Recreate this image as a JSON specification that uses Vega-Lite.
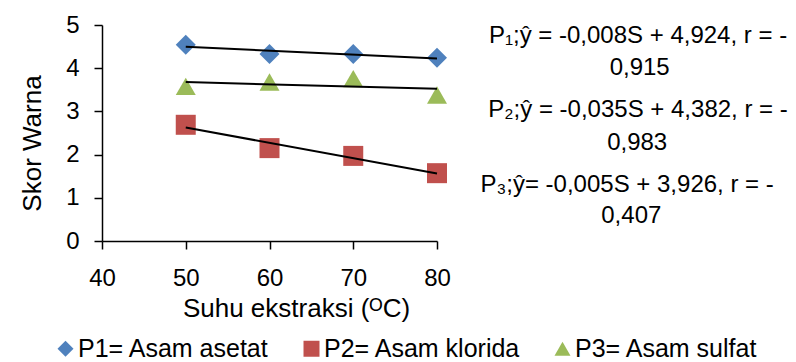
{
  "$schema": "https://vega.github.io/schema/vega-lite/v6.json",
  "width": 335,
  "height": 216,
  "autosize": "none",
  "padding": {"left": 102, "top": 25, "right": 359, "bottom": 121},
  "background": "white",
  "config": {
    "view": {"stroke": null},
    "font": "Liberation Sans",
    "axis": {"grid": false, "domainColor": "black", "tickColor": "black", "domainWidth": 1.5, "tickWidth": 1.5, "tickSize": 8, "labelFontSize": 24, "labelColor": "black", "titleFontSize": 26, "titleFontWeight": "normal", "titleColor": "black", "labelFont": "Liberation Sans", "titleFont": "Liberation Sans", "labelFlush": false, "labelOverlap": false}
  },
  "datasets": {
    "pts": [
      {"suhu": 50, "skor": 4.54, "seri": "P1= Asam asetat"},
      {"suhu": 60, "skor": 4.33, "seri": "P1= Asam asetat"},
      {"suhu": 70, "skor": 4.33, "seri": "P1= Asam asetat"},
      {"suhu": 80, "skor": 4.24, "seri": "P1= Asam asetat"},
      {"suhu": 50, "skor": 2.69, "seri": "P2= Asam klorida"},
      {"suhu": 60, "skor": 2.15, "seri": "P2= Asam klorida"},
      {"suhu": 70, "skor": 1.97, "seri": "P2= Asam klorida"},
      {"suhu": 80, "skor": 1.57, "seri": "P2= Asam klorida"},
      {"suhu": 50, "skor": 3.58, "seri": "P3= Asam sulfat"},
      {"suhu": 60, "skor": 3.68, "seri": "P3= Asam sulfat"},
      {"suhu": 70, "skor": 3.76, "seri": "P3= Asam sulfat"},
      {"suhu": 80, "skor": 3.38, "seri": "P3= Asam sulfat"}
    ],
    "notes": [
      {"tx": 104.0, "ty": 4.583, "teks": "P₁;ŷ = -0,008S + 4,924, r = -"},
      {"tx": 104.2, "ty": 3.843, "teks": "0,915"},
      {"tx": 104.0, "ty": 2.870, "teks": "P₂;ŷ = -0,035S + 4,382, r = -"},
      {"tx": 103.9, "ty": 2.106, "teks": "0,983"},
      {"tx": 102.7, "ty": 1.134, "teks": "P₃;ŷ= -0,005S + 3,926, r = -"},
      {"tx": 103.2, "ty": 0.417, "teks": "0,407"}
    ]
  },
  "layer": [
    {
      "data": {"name": "pts"},
      "mark": {"type": "point", "filled": true, "opacity": 1, "size": 400},
      "encoding": {
        "x": {"field": "suhu", "type": "quantitative", "scale": {"domain": [40, 80], "nice": false, "zero": false},
              "axis": {"values": [40, 50, 60, 70, 80], "labelPadding": 17, "title": "Suhu ekstraksi (ᴼC)", "titleX": 194, "titleAlign": "center", "titlePadding": 5}},
        "y": {"field": "skor", "type": "quantitative", "scale": {"domain": [0, 5], "nice": false},
              "axis": {"values": [0, 1, 2, 3, 4, 5], "labelPadding": 15, "title": "Skor Warna", "titleAngle": -90, "titleBaseline": "alphabetic", "titleX": -62, "titleY": 118, "titleAlign": "center"}},
        "color": {"field": "seri", "type": "nominal", "scale": {"range": ["#4F81BD", "#C0504D", "#9BBB59"]},
                  "legend": {"orient": "none", "legendX": -49, "legendY": 311, "direction": "horizontal", "title": null, "labelFontSize": 25, "labelColor": "black", "symbolSize": 256, "labelOffset": 0, "columnPadding": 29, "padding": 0, "symbolOpacity": 1, "labelLimit": 400}},
        "shape": {"field": "seri", "type": "nominal", "scale": {"range": ["diamond", "square", "triangle-up"]}}
      }
    },
    {
      "data": {"name": "pts"},
      "transform": [{"regression": "skor", "on": "suhu", "groupby": ["seri"]}],
      "mark": {"type": "line", "color": "black", "strokeWidth": 2},
      "encoding": {
        "x": {"field": "suhu", "type": "quantitative"},
        "y": {"field": "skor", "type": "quantitative"},
        "detail": {"field": "seri"}
      }
    },
    {
      "data": {"name": "notes"},
      "mark": {"type": "text", "align": "center", "baseline": "alphabetic", "fontSize": 24, "color": "black", "font": "Liberation Sans"},
      "encoding": {
        "x": {"field": "tx", "type": "quantitative"},
        "y": {"field": "ty", "type": "quantitative"},
        "text": {"field": "teks"}
      }
    }
  ]
}
